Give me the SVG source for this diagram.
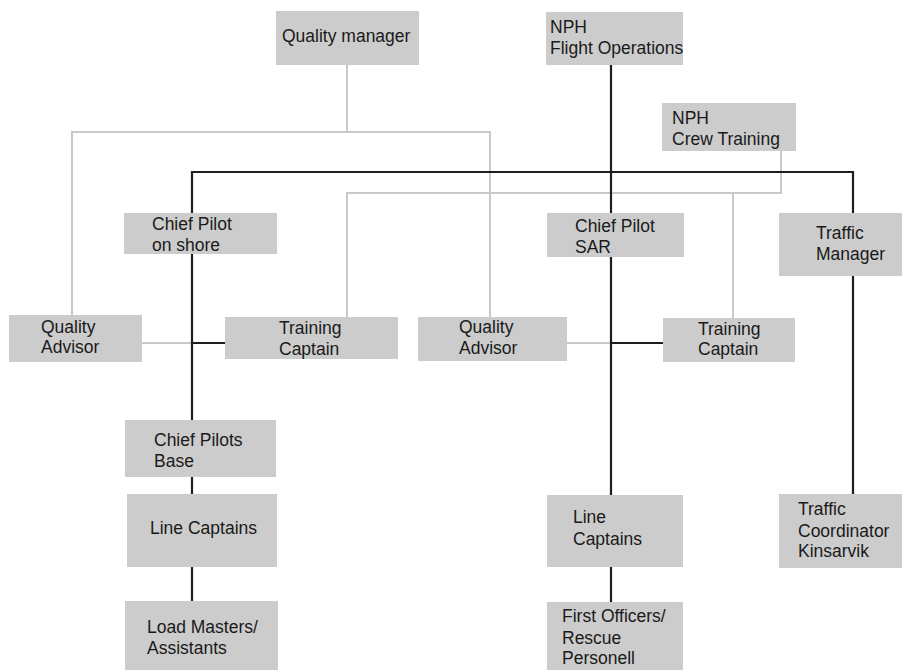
<svg xmlns="http://www.w3.org/2000/svg" width="902" height="670" viewBox="0 0 902 670">
<style>
.box{fill:#cccccc}
.t{font-family:"Liberation Sans",Arial,sans-serif;font-size:17.5px;fill:#1a1a1a}
.g{fill:none;stroke:#c9c9c9;stroke-width:2}
.b{fill:none;stroke:#1e1e1e;stroke-width:2.2}
</style>
<rect width="902" height="670" fill="#ffffff"/>
<g id="connectors">
<path class="g" d="M347 65 V132 H72 V315"/>
<path class="g" d="M347 132 H490 V317"/>
<path class="g" d="M781 151 V193 H347 V317"/>
<path class="g" d="M733 193 V318"/>
<path class="g" d="M142 343 H192"/>
<path class="g" d="M567 343 H611"/>
<path class="b" d="M611 65 V602"/>
<path class="b" d="M192 601 V172 H853 V213"/>
<path class="b" d="M192 343 H225"/>
<path class="b" d="M611 343 H663"/>
<path class="b" d="M853 276 V494"/>
</g>
<g id="quality-manager"><rect class="box" x="276" y="11" width="143" height="54"/><text class="t" x="282" y="42">Quality manager</text></g>
<g id="nph-flight-operations"><rect class="box" x="546" y="12" width="137" height="53"/><text class="t" x="550" y="33">NPH</text><text class="t" x="550" y="54">Flight Operations</text></g>
<g id="nph-crew-training"><rect class="box" x="662" y="103" width="134" height="48"/><text class="t" x="672" y="124">NPH</text><text class="t" x="672" y="145">Crew Training</text></g>
<g id="chief-pilot-on-shore"><rect class="box" x="124" y="213" width="153" height="41"/><text class="t" x="152" y="230">Chief Pilot</text><text class="t" x="152" y="251">on shore</text></g>
<g id="chief-pilot-sar"><rect class="box" x="547" y="213" width="137" height="44"/><text class="t" x="575" y="232">Chief Pilot</text><text class="t" x="575" y="253">SAR</text></g>
<g id="traffic-manager"><rect class="box" x="779" y="213" width="123" height="63"/><text class="t" x="816" y="239">Traffic</text><text class="t" x="816" y="260">Manager</text></g>
<g id="quality-advisor-1"><rect class="box" x="9" y="315" width="133" height="47"/><text class="t" x="41" y="333">Quality</text><text class="t" x="41" y="353">Advisor</text></g>
<g id="training-captain-1"><rect class="box" x="225" y="317" width="173" height="42"/><text class="t" x="279" y="334">Training</text><text class="t" x="279" y="355">Captain</text></g>
<g id="quality-advisor-2"><rect class="box" x="418" y="317" width="149" height="44"/><text class="t" x="459" y="333">Quality</text><text class="t" x="459" y="354">Advisor</text></g>
<g id="training-captain-2"><rect class="box" x="663" y="318" width="132" height="44"/><text class="t" x="698" y="335">Training</text><text class="t" x="698" y="355">Captain</text></g>
<g id="chief-pilots-base"><rect class="box" x="125" y="420" width="151" height="57"/><text class="t" x="154" y="446">Chief Pilots</text><text class="t" x="154" y="467">Base</text></g>
<g id="line-captains-1"><rect class="box" x="127" y="494" width="150" height="73"/><text class="t" x="150" y="534">Line Captains</text></g>
<g id="load-masters"><rect class="box" x="125" y="601" width="153" height="69"/><text class="t" x="147" y="633">Load Masters/</text><text class="t" x="147" y="654">Assistants</text></g>
<g id="line-captains-2"><rect class="box" x="547" y="495" width="136" height="72"/><text class="t" x="573" y="523">Line</text><text class="t" x="573" y="545">Captains</text></g>
<g id="first-officers"><rect class="box" x="547" y="602" width="136" height="68"/><text class="t" x="562" y="622">First Officers/</text><text class="t" x="562" y="644">Rescue</text><text class="t" x="562" y="664">Personell</text></g>
<g id="traffic-coordinator"><rect class="box" x="779" y="494" width="123" height="74"/><text class="t" x="798" y="515">Traffic</text><text class="t" x="798" y="537">Coordinator</text><text class="t" x="798" y="557">Kinsarvik</text></g>
</svg>
